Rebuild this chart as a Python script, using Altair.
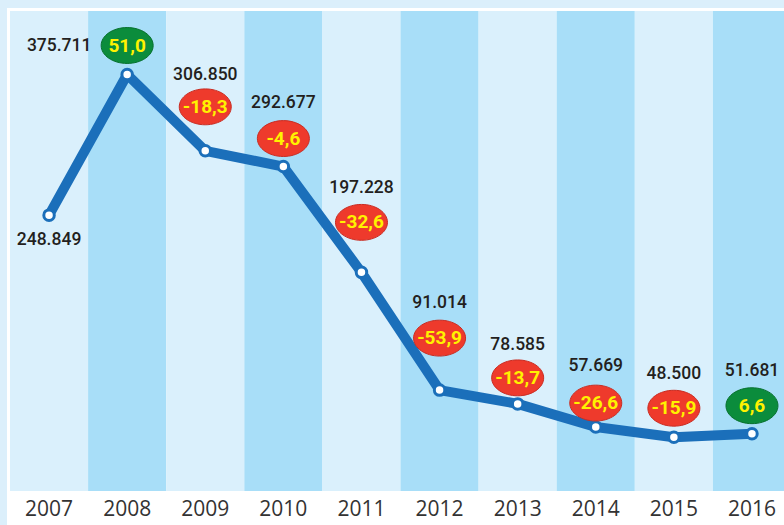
import altair as alt
import pandas as pd

# ---- data ----
years = [2007, 2008, 2009, 2010, 2011, 2012, 2013, 2014, 2015, 2016]
values = [248849, 375711, 306850, 292677, 197228, 91014, 78585, 57669, 48500, 51681]
changes = [None, 51.0, -18.3, -4.6, -32.6, -53.9, -13.7, -26.6, -15.9, 6.6]

# ---- label placement (pixel offsets from each point) ----
label_dx = [0, -68, 0, 0, 0, 0, 0, 0, 0, 0]
label_dy = [25, -29, -76, -64, -84, -87, -59, -61, -63, -63]
badge_dy = [0, -29, -44, -28, -50, -52, -26, -24, -29, -28]

W, H = 774, 480
X_DOMAIN = [-0.5, 9.41]
Y_DOMAIN = [0, 433000]
X_PER_PX = (X_DOMAIN[1] - X_DOMAIN[0]) / W
Y_PER_PX = (Y_DOMAIN[1] - Y_DOMAIN[0]) / H

df = pd.DataFrame({
    "i": list(range(len(years))),
    "year": [str(y) for y in years],
    "value": values,
    "label": [f"{v:,}".replace(",", ".") for v in values],
    "change": changes,
    "badge": ["" if c is None else f"{c:.1f}".replace(".", ",") for c in changes],
    "pos": ["" if c is None else ("up" if c > 0 else "down") for c in changes],
    "ldx": label_dx,
    "ldy": label_dy,
    "bdy": badge_dy,
})

xs = alt.Scale(domain=X_DOMAIN, nice=False, zero=False)
ys = alt.Scale(domain=Y_DOMAIN, nice=False, zero=False)

BLUE = "#1b6fba"
LABEL_FONT = "Roboto"
ELLIPSE = "M-1,0A1,0.69,0,1,1,1,0A1,0.69,0,1,1,-1,0Z"

frame = alt.Chart(pd.DataFrame({"k": [0]})).mark_rect(color="white").encode(
    x=alt.value(-3), x2=alt.value(790), y=alt.value(-3), y2=alt.value(540)
)

bands = alt.Chart(df).transform_calculate(
    x0="datum.i - 0.5", x1="datum.i + 0.5",
    shade="datum.i % 2 == 0 ? 'light' : 'dark'"
).mark_rect(clip=True).encode(
    x=alt.X("x0:Q", scale=xs, axis=None),
    x2="x1:Q",
    y=alt.value(0), y2=alt.value(H),
    color=alt.Color("shade:N", scale=alt.Scale(domain=["light", "dark"],
                    range=["#daf0fc", "#a8def8"]), legend=None),
)

line = alt.Chart(df).mark_line(
    color=BLUE, strokeWidth=10, strokeCap="round", strokeJoin="round"
).encode(
    x=alt.X("i:Q", scale=xs, axis=None),
    y=alt.Y("value:Q", scale=ys, axis=None),
)

points = alt.Chart(df).mark_point(
    shape="circle", filled=True, fill="white", stroke=BLUE,
    strokeWidth=3, size=110, opacity=1
).encode(
    x=alt.X("i:Q", scale=xs, axis=None),
    y=alt.Y("value:Q", scale=ys, axis=None),
)

labels = alt.Chart(df).transform_calculate(
    lx=f"datum.i + datum.ldx * {X_PER_PX}",
    ly=f"datum.value - datum.ldy * {Y_PER_PX}",
).mark_text(
    font=LABEL_FONT, fontSize=17.5, fontWeight=500, color="#231f20",
    align="center", baseline="middle"
).encode(
    x=alt.X("lx:Q", scale=xs, axis=None),
    y=alt.Y("ly:Q", scale=ys, axis=None),
    text="label:N",
)

badge_base = alt.Chart(df).transform_filter("isValid(datum.change)").transform_calculate(
    by=f"datum.value - datum.bdy * {Y_PER_PX}",
)

badge_bg = badge_base.mark_point(
    shape=ELLIPSE, size=2704, strokeWidth=1, opacity=1, fillOpacity=1
).encode(
    x=alt.X("i:Q", scale=xs, axis=None),
    y=alt.Y("by:Q", scale=ys, axis=None),
    fill=alt.Fill("pos:N", scale=alt.Scale(domain=["up", "down"],
                  range=["#0b8c3c", "#ee3a2c"]), legend=None),
    stroke=alt.Stroke("pos:N", scale=alt.Scale(domain=["up", "down"],
                      range=["#07702e", "#c92c22"]), legend=None),
)

badge_txt = badge_base.mark_text(
    font=LABEL_FONT, fontSize=19, fontWeight="bold", color="#fff200",
    align="center", baseline="middle"
).encode(
    x=alt.X("i:Q", scale=xs, axis=None),
    y=alt.Y("by:Q", scale=ys, axis=None),
    text="badge:N",
)

year_txt = alt.Chart(df).mark_text(
    font="Open Sans", fontSize=21, color="#333333", align="center", baseline="middle"
).encode(
    x=alt.X("i:Q", scale=xs, axis=None),
    y=alt.value(H + 19),
    text="year:N",
)

chart = alt.layer(
    frame, bands, line, points, labels, badge_bg, badge_txt, year_txt
).properties(
    width=W, height=H,
    padding={"left": 10, "top": 11, "right": 0, "bottom": 34},
    autosize=alt.AutoSizeParams(type="none"),
    background="#dbeffb",
).configure_view(strokeWidth=0)

chart.save("out.html", embed_options={"renderer": "svg", "actions": False})
